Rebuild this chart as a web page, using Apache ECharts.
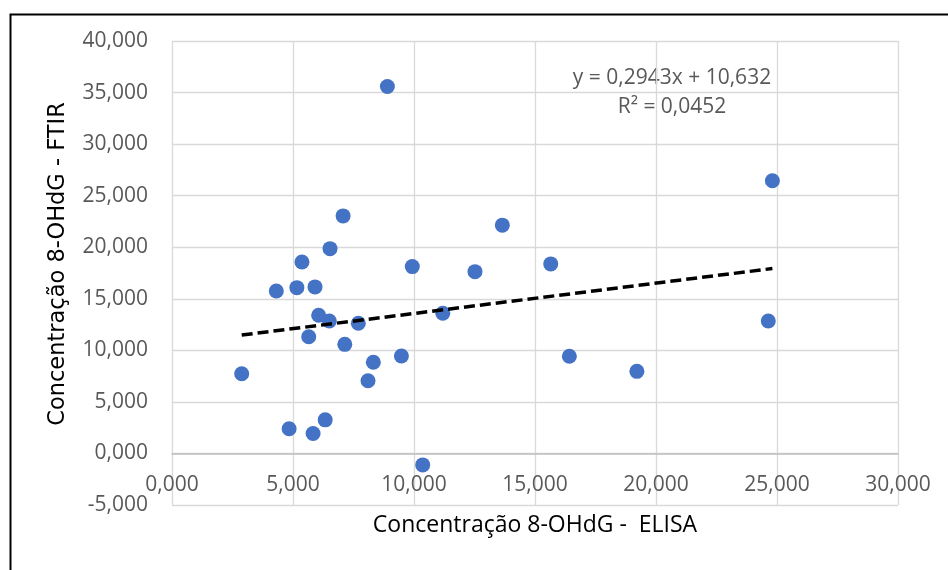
<!DOCTYPE html>
<html>
<head>
<meta charset="utf-8">
<script src="https://cdn.jsdelivr.net/npm/echarts@6/dist/echarts.min.js"></script>
<style>
html,body{margin:0;padding:0;background:#fff;}
#chart{width:948px;height:570px;}
</style>
</head>
<body>
<div id="chart"></div>
<script>
// ELISA (x) and FTIR (y) concentrations of 8-OHdG
const elisa = [2.88, 4.31, 4.84, 5.16, 5.37, 5.65, 5.83, 5.91, 6.06, 6.33, 6.53, 6.50, 7.07, 7.14, 7.70, 8.10, 8.32, 8.90, 9.48, 9.93, 10.36, 11.19, 12.52, 13.65, 15.65, 16.42, 19.21, 24.64, 24.81];
const ftir  = [7.73, 15.76, 2.39, 16.08, 18.57, 11.32, 1.94, 16.15, 13.40, 3.26, 19.86, 12.85, 23.04, 10.58, 12.62, 7.05, 8.84, 35.59, 9.45, 18.12, -1.11, 13.59, 17.63, 22.14, 18.38, 9.42, 7.96, 12.85, 26.44];
// linear trendline reported on the chart
const slope = 0.2943;
const intercept = 10.632;
const r2 = 0.0452;
const xTitle = 'Concentração 8-OHdG -  ELISA';
const yTitle = 'Concentração 8-OHdG - FTIR';
const yMin = -5, yMax = 40;

const fmt = v => v.toFixed(3).replace('.', ',');
const points = elisa.map((x, i) => [x, ftir[i]]);
const xMin = Math.min(...elisa), xMax = Math.max(...elisa);
const trend = [[xMin, slope * xMin + intercept], [xMax, slope * xMax + intercept]];
const eqText = 'y = ' + slope.toFixed(4).replace('.', ',') + 'x + ' + intercept.toFixed(3).replace('.', ',');
const r2Text = 'R² = ' + r2.toFixed(4).replace('.', ',');

const W = 948, H = 570;
const grid = {left: 172, right: 50, top: 41, bottom: 65};
const plotH = H - grid.top - grid.bottom;
const zeroOffset = -(0 - yMin) / (yMax - yMin) * plotH; // lift x axis onto y = 0

const chart = echarts.init(document.getElementById('chart'), null, {renderer: 'canvas', width: W, height: H});
const tickFont = {fontFamily: 'Open Sans', fontSize: 21, color: '#595959'};
chart.setOption({
  animation: false,
  backgroundColor: '#fff',
  grid: Object.assign({containLabel: false, outerBoundsMode: 'none'}, grid),
  xAxis: {
    type: 'value', min: 0, max: 30, interval: 5, offset: zeroOffset,
    axisLine: {show: true, onZero: false, lineStyle: {color: '#BFBFBF', width: 1.5}},
    axisTick: {show: false},
    splitLine: {show: true, lineStyle: {color: '#D9D9D9', width: 1.3}},
    axisLabel: Object.assign({formatter: fmt, margin: 21}, tickFont),
    name: xTitle, nameLocation: 'middle', nameGap: 61,
    nameTextStyle: {fontFamily: 'Open Sans', fontSize: 23, color: '#000'}
  },
  yAxis: {
    type: 'value', min: yMin, max: yMax, interval: 5,
    axisLine: {show: false, onZero: false},
    axisTick: {show: false},
    splitLine: {show: true, lineStyle: {color: '#D9D9D9', width: 1.3}},
    axisLabel: Object.assign({formatter: fmt, margin: 24}, tickFont),
    name: yTitle, nameLocation: 'middle', nameGap: 102, nameRotate: 90,
    nameTextStyle: {fontFamily: 'DejaVu Sans', fontSize: 22.5, color: '#000', padding: [0, 0, 0, 18]}
  },
  graphic: [
    {type: 'rect', left: 8, top: 12, shape: {width: 980, height: 600}, style: {fill: 'none', stroke: '#000', lineWidth: 2}, silent: true},
    {type: 'text', x: 672, y: 78, style: {text: eqText, fontFamily: 'Open Sans', fontSize: 21, fill: '#595959', align: 'center', verticalAlign: 'middle'}},
    {type: 'text', x: 672, y: 107, style: {text: r2Text, fontFamily: 'Open Sans', fontSize: 21, fill: '#595959', align: 'center', verticalAlign: 'middle'}}
  ],
  series: [
    {type: 'scatter', data: points, symbolSize: 15, itemStyle: {color: '#4472C4', opacity: 1}, z: 2},
    {type: 'line', data: trend, symbol: 'none', z: 3,
     lineStyle: {color: '#000', width: 3.5, type: [11, 5]}}
  ]
});
</script>
</body>
</html>
